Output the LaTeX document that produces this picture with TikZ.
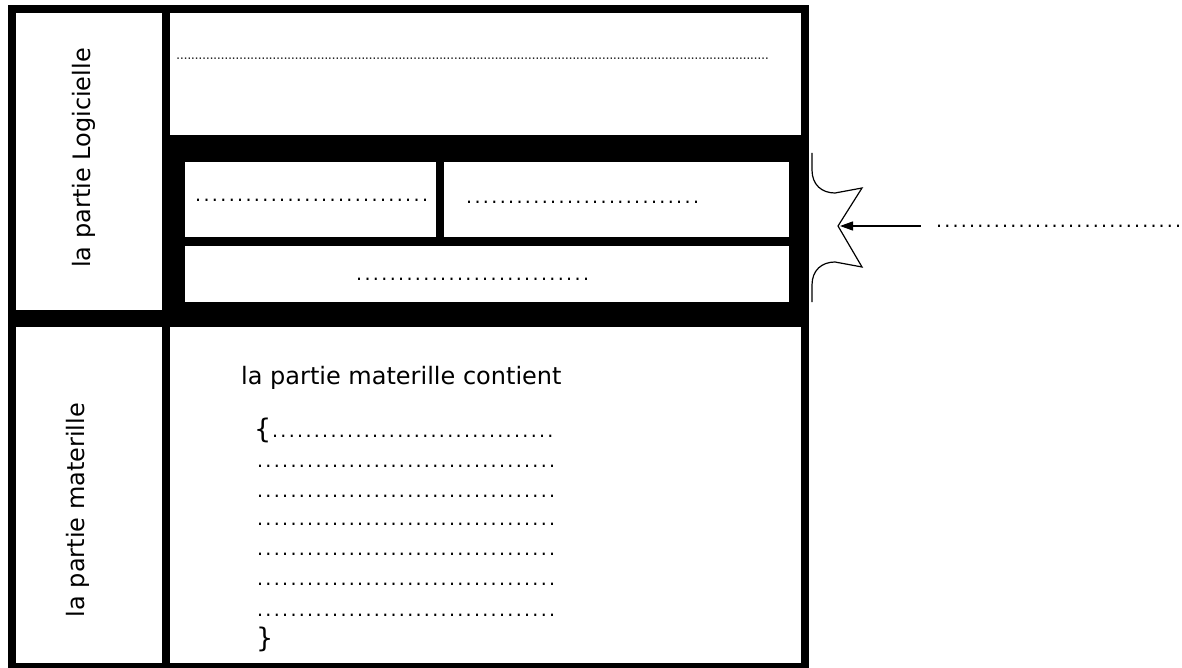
\documentclass[tikz,border=0pt]{standalone}
\usepackage{fontspec}
\setmainfont{DejaVu Sans}
\usetikzlibrary{arrows.meta}
\newcommand\dotrow[2]{\hbox to \dimexpr#2*#1\relax{\leaders\hbox to #2{\hss.\hss}\hfill}}
\begin{document}
\begin{tikzpicture}[x=1pt,y=-1pt,
  lbl/.style={font=\fontsize{24}{28}\selectfont, inner sep=0},
  brace/.style={font=\fontsize{27}{30}\selectfont, inner sep=0, anchor=base west},
  dotsrow/.style={font=\fontsize{19}{22}\selectfont, inner sep=0, anchor=base west},
  panel/.style={fill=white},
  frame/.style={fill=black},
  thinline/.style={line width=1.2pt},
  arr/.style={line width=1.3pt, -{Triangle[length=13pt,width=9pt]}}]
\useasboundingbox[fill=white] (0,0) rectangle (1182,668);
% black frame and white panels
\path[frame] (8,5) rectangle (809,668);
\path[panel] (16,13) rectangle (162,310);
\path[panel] (16,327) rectangle (162,663);
\path[panel] (170,13) rectangle (801,135);
\path[panel] (185,162) rectangle (436,237);
\path[panel] (444,162) rectangle (789,237);
\path[panel] (185,246) rectangle (789,302);
\path[panel] (170,327) rectangle (801,663);
% side labels
\node[lbl, rotate=90] (logi) at (84,158) {la partie Logicielle};
\node[lbl, rotate=90] (mat) at (78,510) {la partie materille};
% top panel
\node[font=\fontsize{13}{14}\selectfont, text=black!85, inner sep=0, anchor=base west] (tdots) at (176.2,59.5) {\dotrow{160}{3.7pt}};
% inner panels
\node[dotsrow] (d1) at (193.8,202) {\dotrow{28}{8.4pt}};
\node[dotsrow] (d2) at (464.8,204) {\dotrow{28}{8.4pt}};
\node[dotsrow] (d3) at (354.8,280) {\dotrow{28}{8.4pt}};
% bottom panel
\node[lbl, anchor=base west] (cont) at (241,384) {la partie materille contient};
\node[brace] (ob) at (254,438) {\{};
\node[dotsrow] (r1) at (270.8,437) {\dotrow{34}{8.34pt}};
\node[dotsrow] (r2) at (255.8,467) {\dotrow{36}{8.34pt}};
\node[dotsrow] (r3) at (255.8,497) {\dotrow{36}{8.34pt}};
\node[dotsrow] (r4) at (255.8,525) {\dotrow{36}{8.34pt}};
\node[dotsrow] (r5) at (255.8,555) {\dotrow{36}{8.34pt}};
\node[dotsrow] (r6) at (255.8,585) {\dotrow{36}{8.34pt}};
\node[dotsrow] (r7) at (255.8,616) {\dotrow{36}{8.34pt}};
\node[brace] (cb) at (256,647) {\}};
% star-shaped receiver and arrow
\draw[thinline] (812,153) -- (812,170) .. controls (812,185) and (822,193) .. (835,193) -- (862,188) -- (838,226) -- (862,267) -- (835,262) .. controls (822,262) and (812,270) .. (812,285) -- (812,302);
\coordinate (tip) at (840,226);
\node[dotsrow] (rdots) at (934.9,227.5) {\dotrow{30}{8.24pt}};
\draw[arr, shorten <=14pt] (tip -| rdots.west) -- (tip);
\end{tikzpicture}
\end{document}
